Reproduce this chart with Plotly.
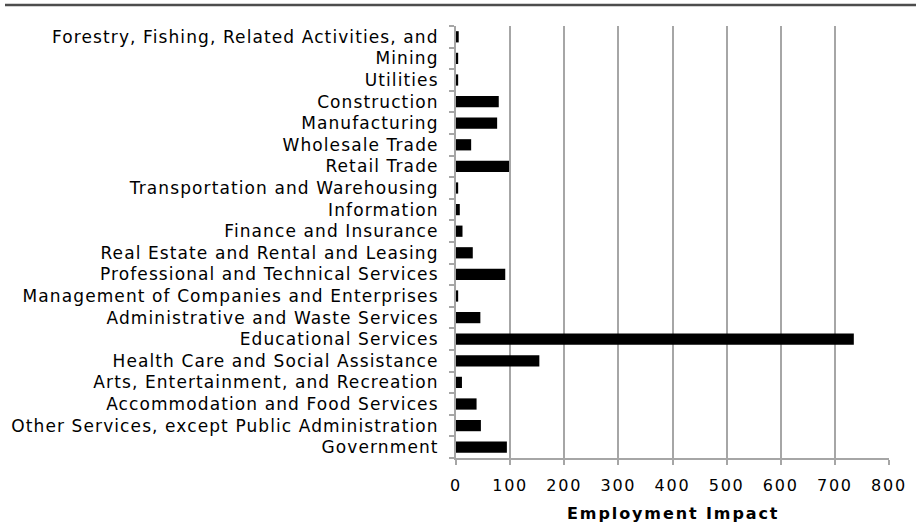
import plotly.graph_objects as go

industries = [
    "Forestry, Fishing, Related Activities, and",
    "Mining",
    "Utilities",
    "Construction",
    "Manufacturing",
    "Wholesale Trade",
    "Retail Trade",
    "Transportation and Warehousing",
    "Information",
    "Finance and Insurance",
    "Real Estate and Rental and Leasing",
    "Professional and Technical Services",
    "Management of Companies and Enterprises",
    "Administrative and Waste Services",
    "Educational Services",
    "Health Care and Social Assistance",
    "Arts, Entertainment, and Recreation",
    "Accommodation and Food Services",
    "Other Services, except Public Administration",
    "Government",
]
employment = [5, 4, 4, 79, 76, 28, 98, 4, 7, 12, 31, 91, 4, 45, 735, 154, 11, 38, 46, 94]
x_ticks = [0, 100, 200, 300, 400, 500, 600, 700, 800]
x_title = "Employment Impact"

FONT = "DejaVu Sans"
GRID = "#a6a6a6"

def spaced(t, ls):
    return f"<span style='letter-spacing:{ls}px'>{t}</span>"

fig = go.Figure(
    go.Bar(
        x=employment,
        y=industries,
        orientation="h",
        marker=dict(color="#000000", line=dict(width=0)),
        hoverinfo="x+y",
    )
)

fig.update_layout(
    width=923,
    height=523,
    margin=dict(l=456, r=34, t=26, b=65),
    paper_bgcolor="white",
    plot_bgcolor="white",
    bargap=0.48,
    showlegend=False,
    font=dict(family=FONT, size=16, color="#000000"),
    xaxis=dict(
        range=[0, 800],
        tickvals=x_ticks,
        ticktext=[spaced(str(v), 1.8) for v in x_ticks],
        showgrid=True,
        gridcolor=GRID,
        gridwidth=2,
        showline=True,
        linecolor=GRID,
        linewidth=2,
        ticks="outside",
        ticklen=5,
        tickwidth=2,
        tickcolor=GRID,
        tickfont=dict(family=FONT, size=16, color="#000000"),
        ticklabelstandoff=7,
        zeroline=False,
        fixedrange=True,
    ),
    yaxis=dict(
        categoryorder="array",
        categoryarray=industries,
        tickvals=industries,
        ticktext=[spaced(t, 1.1) for t in industries],
        autorange="reversed",
        showgrid=False,
        showline=True,
        linecolor=GRID,
        linewidth=2,
        ticks="outside",
        tickson="boundaries",
        ticklen=5,
        tickwidth=2,
        tickcolor=GRID,
        tickfont=dict(family=FONT, size=17, color="#000000"),
        ticklabelstandoff=12,
        fixedrange=True,
    ),
    shapes=[
        dict(
            type="line",
            xref="paper",
            yref="paper",
            x0=-451 / 433,
            x1=460 / 433,
            y0=1 + 21 / 432,
            y1=1 + 21 / 432,
            line=dict(color="#4d4d4d", width=2.5),
        )
    ],
    annotations=[
        dict(
            text=f"<b>{spaced(x_title, 1.9)}</b>",
            xref="paper",
            yref="paper",
            x=0.5,
            y=-(513 - 458) / 432,
            xanchor="center",
            yanchor="middle",
            showarrow=False,
            font=dict(family=FONT, size=16, color="#000000"),
        )
    ],
)

fig.write_html("out.html")
